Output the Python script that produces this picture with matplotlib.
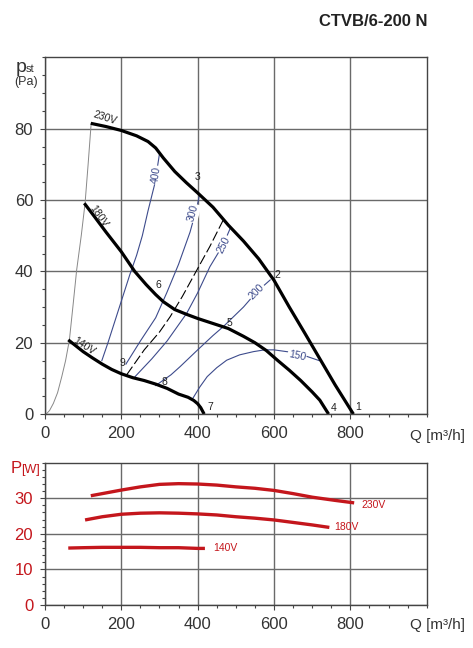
import matplotlib
matplotlib.use("Agg")
import matplotlib.pyplot as plt
from matplotlib.ticker import MultipleLocator

plt.rcParams['font.family'] = ['Liberation Sans', 'DejaVu Sans']

# pressure curves, Q [m3/h] vs pst [Pa]
q_230 = [120, 160, 200, 240, 270, 290, 310, 340, 370, 400, 440, 480, 520, 560, 600, 640, 680, 720, 760, 808]
p_230 = [81.5, 80.6, 79.5, 78, 76.4, 74.6, 71.8, 68, 64.9, 62, 58, 53, 48.5, 43.5, 37.5, 30, 22.8, 15.5, 8.2, 0]
q_180 = [103, 130, 160, 200, 235, 265, 290, 310, 340, 370, 400, 440, 480, 520, 550, 580, 610, 640, 670, 700, 720, 743]
p_180 = [59.1, 55.3, 51, 45.5, 40, 36.3, 33.5, 31.5, 29.3, 28, 26.8, 25.4, 24, 21.8, 20, 17.8, 15, 12.3, 9.4, 6.2, 3.9, 0]
q_140 = [61, 80, 100, 125, 150, 175, 200, 230, 260, 290, 320, 350, 375, 390, 400, 408, 417]
p_140 = [20.8, 19.2, 17.5, 15.7, 14, 12.5, 11.3, 10.2, 9.4, 8.4, 7.2, 5.6, 4.7, 3.8, 2.9, 1.8, 0]

# system curve through the start points
q_sys = [3, 12, 22, 33, 44, 54, 64, 74, 83, 95, 105, 113, 121]
p_sys = [0, 1, 3, 6, 10.5, 15, 20.8, 31, 40.4, 50, 59.1, 70, 81.5]

# iso lines (blue)
q_400 = [149, 165, 180, 201, 222, 240, 255, 270, 288, 300]
p_400 = [15, 20, 25, 32, 39, 44.5, 50, 57, 64.7, 73]
q_300 = [212, 250, 290, 319, 350, 380, 398, 405]
p_300 = [14, 20.5, 27, 34, 42, 51, 58, 61.5]
q_dash = [214, 260, 300, 328, 360, 398, 432, 467]
p_dash = [11, 18, 23, 27.3, 33, 40.4, 47, 54.4]
q_250 = [236, 280, 320, 371, 400, 432, 467, 485]
p_250 = [10.5, 15.5, 20.5, 28.2, 34, 41.3, 47.5, 52]
q_200 = [290, 330, 354, 400, 440, 467, 520, 555, 590]
p_200 = [8, 11, 13.3, 18, 22, 24.5, 30, 34.3, 37.6]
q_150 = [385, 405, 425, 450, 476, 510, 546, 575, 600, 640, 677, 718]
p_150 = [4, 7.5, 10.5, 13, 15.1, 16.6, 17.5, 18, 18, 17.4, 16.5, 15]

iso_labels = ['400', '300', '250', '200', '150']
iso_label_q = [292, 389, 469, 555, 660]
iso_label_p = [67, 56.3, 47.5, 34.3, 16.3]
iso_label_rot = [81, 75, 63, 45, -12]

point_names = ['1', '2', '3', '4', '5', '6', '7', '8', '9']
point_q = [821, 609, 399, 756, 483, 297, 433, 314, 202]
point_p = [2, 39, 66.4, 1.8, 25.4, 36.2, 2, 9.1, 14.4]

volt_labels = ['230V', '180V', '140V']
volt_q = [158, 140, 102]
volt_p = [83, 55.5, 19]
volt_rot = [-18, -55, -33]

# power curves, Q vs P [W]
qw_230 = [120, 160, 200, 250, 300, 350, 400, 450, 500, 550, 600, 650, 700, 760, 810]
w_230 = [30.7, 31.5, 32.3, 33.2, 33.9, 34.1, 34.0, 33.7, 33.2, 32.8, 32.2, 31.3, 30.3, 29.4, 28.7]
qw_180 = [105, 150, 200, 250, 300, 350, 400, 450, 500, 550, 600, 650, 700, 745]
w_180 = [23.9, 24.8, 25.5, 25.8, 25.9, 25.8, 25.6, 25.3, 24.8, 24.4, 23.9, 23.2, 22.5, 21.8]
qw_140 = [61, 100, 150, 200, 250, 300, 350, 400, 419]
w_140 = [16.0, 16.1, 16.2, 16.2, 16.2, 16.1, 16.1, 15.9, 15.9]
wlabel_q = [830, 758, 441]
wlabel_w = [28.1, 21.8, 15.9]

x_ticks = [0, 200, 400, 600, 800]
p_ticks = [0, 20, 40, 60, 80]
w_ticks = [0, 10, 20, 30]

BLUE = '#3d4b8c'
RED = '#c4161c'
GRID = '#6a6a6a'
TXT = '#333333'


def style_axis(ax, ycol):
    for s in ax.spines.values():
        s.set_color('#444444')
        s.set_linewidth(1.0)
    ax.grid(True, which='major', color=GRID, linewidth=1.0)
    ax.set_axisbelow(True)
    ax.tick_params(which='major', length=3.5, width=0.8, pad=5, labelsize=12, color='#444444')
    ax.tick_params(which='minor', length=2.5, width=0.8, color='#444444')
    ax.tick_params(axis='x', labelcolor=TXT)
    ax.tick_params(axis='y', labelcolor=ycol)
    ax.xaxis.set_minor_locator(MultipleLocator(50))


fig = plt.figure(figsize=(4.73, 6.48), dpi=100)
ax1 = fig.add_axes([0.0951, 0.361, 0.807, 0.5505])
ax2 = fig.add_axes([0.0951, 0.0664, 0.807, 0.2196])

# ---- pressure chart
ax1.set_xlim(0, 1000)
ax1.set_ylim(0, 100)
ax1.set_xticks(x_ticks)
ax1.set_yticks(p_ticks)
ax1.yaxis.set_minor_locator(MultipleLocator(5))
style_axis(ax1, TXT)

ax1.plot(q_sys, p_sys, color='#888888', lw=0.7)
for q, p in [(q_400, p_400), (q_300, p_300), (q_250, p_250), (q_200, p_200), (q_150, p_150)]:
    ax1.plot(q, p, color=BLUE, lw=0.8)
ax1.plot(q_dash, p_dash, color='black', lw=0.8, dashes=(9, 3))

for q, p in [(q_230, p_230), (q_180, p_180), (q_140, p_140)]:
    ax1.plot(q, p, color='black', lw=2.3, solid_capstyle='butt', solid_joinstyle='round')

for t, q, p, r in zip(iso_labels, iso_label_q, iso_label_p, iso_label_rot):
    ax1.text(q, p, t, color=BLUE, fontsize=7.5, rotation=r, ha='center', va='center',
             rotation_mode='anchor',
             bbox=dict(facecolor='white', edgecolor='none', pad=0.6))
for t, q, p in zip(point_names, point_q, point_p):
    ax1.text(q, p, t, color='#222222', fontsize=7.5, ha='center', va='center')
for t, q, p, r in zip(volt_labels, volt_q, volt_p, volt_rot):
    ax1.text(q, p, t, color='#222222', fontsize=7.5, rotation=r, ha='center', va='center',
             rotation_mode='anchor')

# ---- power chart
ax2.set_xlim(0, 1000)
ax2.set_ylim(0, 40)
ax2.set_xticks(x_ticks)
ax2.set_yticks(w_ticks)
ax2.yaxis.set_minor_locator(MultipleLocator(2))
style_axis(ax2, RED)

for q, w in [(qw_230, w_230), (qw_180, w_180), (qw_140, w_140)]:
    ax2.plot(q, w, color=RED, lw=2.4, solid_capstyle='butt')
for t, q, w in zip(volt_labels, wlabel_q, wlabel_w):
    ax2.text(q, w, t, color=RED, fontsize=7.5, ha='left', va='center')

# ---- texts outside the axes
W, H = 473.0, 648.0
fig.text(427 / W, 1 - 21 / H, 'CTVB/6-200 N', fontsize=12, fontweight='bold',
         color='#222222', ha='right', va='center')
fig.text(16 / W, 1 - 67 / H, 'p', fontsize=14, color=TXT, ha='left', va='center')
fig.text(26 / W, 1 - 69 / H, 'st', fontsize=8, color=TXT, ha='left', va='center')
fig.text(26 / W, 1 - 82 / H, '(Pa)', fontsize=9, color=TXT, ha='center', va='center')
fig.text(410 / W, 1 - 436 / H, 'Q [m³/h]', fontsize=11, color=TXT, ha='left', va='center')
fig.text(410 / W, 1 - 625 / H, 'Q [m³/h]', fontsize=11, color=TXT, ha='left', va='center')
fig.text(11 / W, 1 - 473 / H, 'P', fontsize=12, color=RED, ha='left', va='baseline')
fig.text(21 / W, 1 - 473 / H, '[W]', fontsize=9, color=RED, ha='left', va='baseline')

fig.savefig('out.png', dpi=100)
